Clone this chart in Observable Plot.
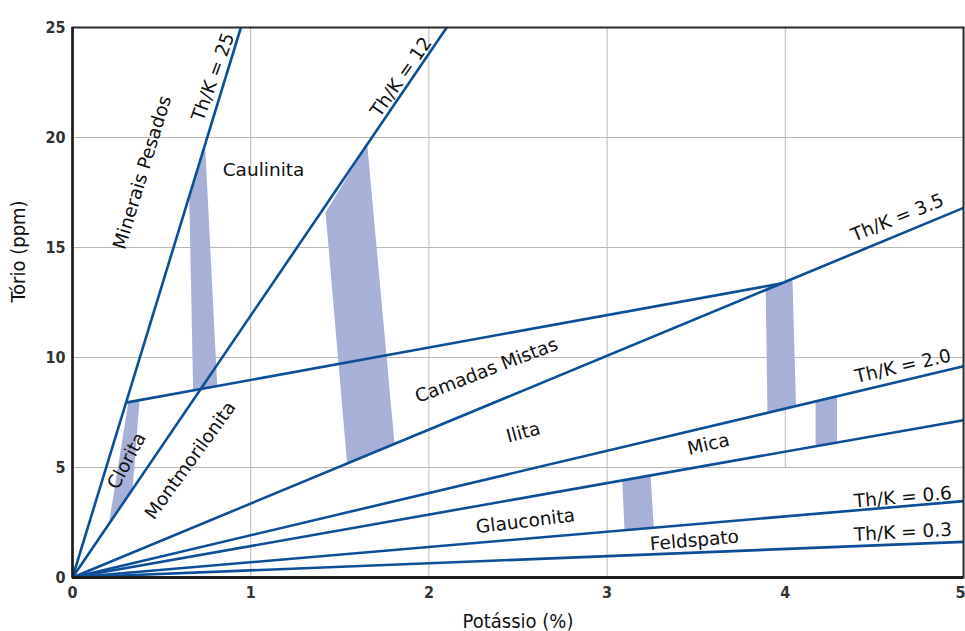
<!DOCTYPE html>
<html>
<head>
<meta charset="utf-8">
<script src="https://cdn.jsdelivr.net/npm/d3@7"></script>
<script src="https://cdn.jsdelivr.net/npm/@observablehq/plot@0.6"></script>
<style>
  html, body { margin: 0; padding: 0; background: #fff; }
  #chart svg { display: block; }
</style>
</head>
<body>
<div id="chart"></div>
<script>
// Axis ticks (the last x tick sits on the right edge and is end-anchored)
const xTicks = [0, 1, 2, 3, 4];
const xTickEnd = [5];
const yTicks = [0, 5, 10, 15, 20, 25];

// Vertical grid segments (K, Th from, Th to)
const gridK = [1, 2, 3, 4];
const gridThFrom = [0, 0, 0, 5];
const gridThTo = [25, 25, 25, 25];
// Horizontal grid lines (Th)
const gridTh = [5, 10, 15, 20];

// Boundary lines: start and end points (K %, Th ppm)
const lineK1 = [0, 0, 0, 0, 0, 0, 0, 0.30];
const lineTh1 = [0, 0, 0, 0, 0, 0, 0, 7.95];
const lineK2 = [0.945, 2.10, 5, 5, 5, 5, 5, 3.98];
const lineTh2 = [25, 25, 16.8, 9.6, 7.15, 3.47, 1.62, 13.37];

// Shaded transition bands (polygon vertices)
const bandId = [
  "a", "a", "a", "a",
  "b", "b", "b", "b", "b",
  "c", "c", "c", "c",
  "d", "d", "d", "d",
  "e", "e", "e", "e",
  "f", "f", "f", "f"
];
const bandK = [
  0.313, 0.376, 0.337, 0.204,
  0.735, 0.745, 0.812, 0.677, 0.655,
  1.420, 1.654, 1.807, 1.541,
  3.89, 4.04, 4.06, 3.90,
  4.17, 4.29, 4.29, 4.17,
  3.085, 3.244, 3.262, 3.098
];
const bandTh = [
  7.94, 8.06, 4.0, 2.43,
  19.5, 19.5, 8.72, 8.50, 17.36,
  16.6, 19.68, 6.07, 5.17,
  13.07, 13.57, 7.79, 7.49,
  8.05, 8.25, 6.14, 5.96,
  4.41, 4.64, 2.26, 2.15
];

// Region and ratio labels
const labelText = [
  "Minerais Pesados", "Th/K = 25", "Caulinita", "Th/K = 12", "Th/K = 3.5",
  "Camadas Mistas", "Ilita", "Th/K = 2.0", "Mica", "Montmorilonita",
  "Clorita", "Glauconita", "Feldspato", "Th/K = 0.6", "Th/K = 0.3"
];
const labelK = [0.392, 0.79, 1.072, 1.845, 4.63, 2.323, 2.53, 4.66, 3.569, 0.662, 0.305, 2.542, 3.49, 4.66, 4.66];
const labelTh = [18.41, 22.75, 18.5, 22.75, 16.35, 9.41, 6.59, 9.6, 6.05, 5.32, 5.3, 2.55, 1.68, 3.64, 2.05];
const labelAngle = [-73, -70, 0, -55, -22, -21, -15, -13, -13, -54, -62, -7, -5, -5, -3];

const lines = lineK1.map((k, i) => ({k1: k, t1: lineTh1[i], k2: lineK2[i], t2: lineTh2[i]}));
const bands = bandId.map((id, i) => ({id, k: bandK[i], t: bandTh[i]}));
const labels = labelText.map((text, i) => ({text, k: labelK[i], t: labelTh[i], angle: labelAngle[i]}));
const vGrid = gridK.map((k, i) => ({k, t1: gridThFrom[i], t2: gridThTo[i]}));

const tickFont = "'Liberation Sans Narrow', 'DejaVu Sans Condensed', sans-serif";
const titleFont = "'Liberation Sans Narrow', 'DejaVu Sans Condensed', sans-serif";
const noteFont = "'DejaVu Sans', sans-serif";
const blue = "#0c4f97";
const tickStyle = {tickSize: 0, label: null, tickFormat: d => String(d),
  fontFamily: tickFont, fontSize: 16, fontWeight: "bold", fill: "#333"};

const chart = Plot.plot({
  width: 965,
  height: 631,
  marginLeft: 72,
  marginRight: 2,
  marginTop: 27,
  marginBottom: 54,
  x: {domain: [0, 5]},
  y: {domain: [0, 25]},
  style: {background: "#fff", overflow: "visible"},
  marks: [
    Plot.ruleX(vGrid, {x: "k", y1: "t1", y2: "t2", stroke: "#b8b8b8", strokeWidth: 1}),
    Plot.ruleY(gridTh, {stroke: "#b8b8b8", strokeWidth: 1}),
    Plot.line(bands, {x: "k", y: "t", z: "id", fill: "#a7b0d6", stroke: "none", curve: "linear-closed"}),
    Plot.link(lines, {x1: "k1", y1: "t1", x2: "k2", y2: "t2", stroke: blue, strokeWidth: 2.6}),
    Plot.frame({stroke: "#2a2a2a", strokeWidth: 2}),
    Plot.ruleY([0], {stroke: "#1e1e1e", strokeWidth: 3}),
    Plot.ruleX([0], {stroke: "#1e1e1e", strokeWidth: 2.5}),
    Plot.axisX({...tickStyle, ticks: xTicks, tickPadding: 9}),
    Plot.axisX({...tickStyle, ticks: xTickEnd, tickPadding: 9, textAnchor: "end", dx: 2}),
    Plot.axisY({...tickStyle, ticks: yTicks, tickPadding: 7}),
    Plot.text(labels, {x: "k", y: "t", text: "text", rotate: "angle", fontFamily: noteFont,
      fontSize: 18.5, fill: "#111"}),
    Plot.text(["Potássio (%)"], {frameAnchor: "bottom", dy: 50, fontFamily: titleFont, fontSize: 20, fill: "#111"}),
    Plot.text(["Tório (ppm)"], {frameAnchor: "left", dx: -54, rotate: -90, fontFamily: titleFont, fontSize: 20, fill: "#111"})
  ]
});

document.getElementById("chart").appendChild(chart);
</script>
</body>
</html>
